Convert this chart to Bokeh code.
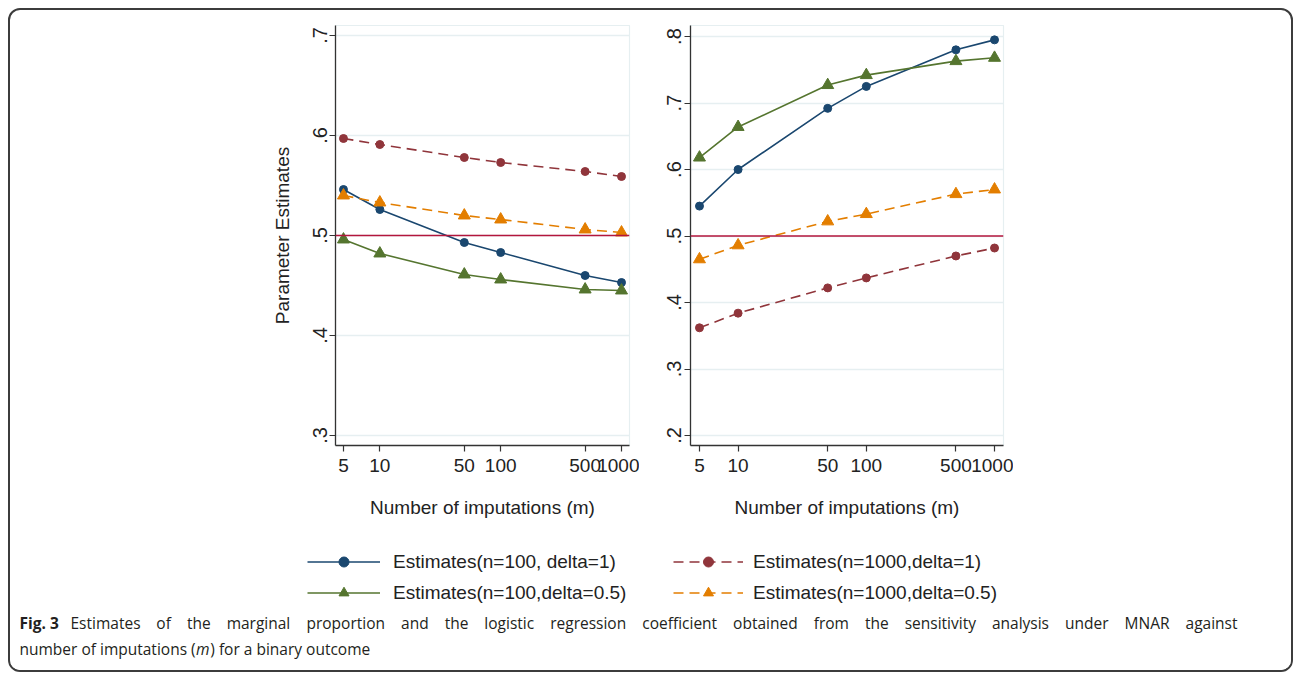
from bokeh.plotting import figure
from bokeh.layouts import column, row
from bokeh.models import (Range1d, FixedTicker, Span, Legend, LegendItem, Label, Spacer)
from bokeh.embed import file_html
from bokeh.resources import INLINE

# ---------------- data ----------------
m_imputations = [5, 10, 50, 100, 500, 1000]
x_tick_labels = ["5", "10", "50", "100", "500", "1000"]

# Left panel: marginal proportion
left_n100_d1 = [0.546, 0.526, 0.493, 0.483, 0.460, 0.453]
left_n1000_d1 = [0.597, 0.591, 0.578, 0.573, 0.564, 0.559]
left_n100_d05 = [0.496, 0.482, 0.461, 0.456, 0.446, 0.445]
left_n1000_d05 = [0.540, 0.533, 0.520, 0.516, 0.506, 0.503]

# Right panel: logistic regression coefficient
right_n100_d1 = [0.545, 0.600, 0.692, 0.725, 0.780, 0.795]
right_n1000_d1 = [0.362, 0.384, 0.422, 0.437, 0.470, 0.482]
right_n100_d05 = [0.618, 0.664, 0.727, 0.742, 0.763, 0.768]
right_n1000_d05 = [0.465, 0.486, 0.522, 0.533, 0.563, 0.570]

left_y_ticks = [0.3, 0.4, 0.5, 0.6, 0.7]
left_y_labels = [".3", ".4", ".5", ".6", ".7"]
right_y_ticks = [0.2, 0.3, 0.4, 0.5, 0.6, 0.7, 0.8]
right_y_labels = [".2", ".3", ".4", ".5", ".6", ".7", ".8"]
reference_value = 0.5

series_names = ["Estimates(n=100, delta=1)", "Estimates(n=1000,delta=1)",
                "Estimates(n=100,delta=0.5)", "Estimates(n=1000,delta=0.5)"]

caption_bold = "Fig. 3"
caption_line1 = ("Estimates of the marginal proportion and the logistic regression coefficient "
                 "obtained from the sensitivity analysis under MNAR against")
caption_line2 = ["number of imputations (", "m", ") for a binary outcome"]

# ---------------- styles ----------------
C_NAVY = "#1a476f"
C_MAROON = "#90353b"
C_GREEN = "#55752f"
C_ORANGE = "#e37e00"
C_REF = "#b3163c"
C_GRID = "#e6eff1"
C_AXIS = "#333333"
C_TEXT = "#222222"
FONT = "Liberation Sans"

styles = [
    dict(color=C_NAVY, dash="solid", marker="circle", size=8),
    dict(color=C_MAROON, dash="10 6", marker="circle", size=8),
    dict(color=C_GREEN, dash="solid", marker="triangle", size=12),
    dict(color=C_ORANGE, dash="10 6", marker="triangle", size=12),
]


def make_panel(width, border_left, y_range, y_ticks, y_labels, x_range, series, y_title):
    p = figure(width=width, height=520, x_axis_type="log",
               x_range=x_range, y_range=y_range,
               min_border_left=border_left, min_border_right=10,
               min_border_top=15, min_border_bottom=85,
               toolbar_location=None, output_backend="svg")
    p.background_fill_color = "white"
    p.border_fill_color = "white"
    p.outline_line_color = C_GRID
    p.outline_line_width = 1.2

    p.xgrid.visible = False
    p.ygrid.ticker = FixedTicker(ticks=y_ticks)
    p.ygrid.grid_line_color = C_GRID
    p.ygrid.grid_line_width = 1.5

    p.xaxis.ticker = FixedTicker(ticks=m_imputations)
    p.xaxis.major_label_overrides = {t: l for t, l in zip(m_imputations, x_tick_labels)}
    p.yaxis.ticker = FixedTicker(ticks=y_ticks)
    p.yaxis.major_label_overrides = {t: l for t, l in zip(y_ticks, y_labels)}
    p.yaxis.major_label_orientation = "vertical"
    for ax in (p.xaxis, p.yaxis):
        ax.axis_line_color = C_AXIS
        ax.axis_line_width = 1.3
        ax.major_tick_line_color = C_AXIS
        ax.major_tick_line_width = 1.2
        ax.major_tick_out = 6
        ax.major_tick_in = 0
        ax.minor_tick_line_color = None
        ax.major_label_text_font = FONT
        ax.major_label_text_color = C_TEXT
        ax.axis_label_text_font = FONT
        ax.axis_label_text_font_size = "19px"
        ax.axis_label_text_font_style = "normal"
        ax.axis_label_text_color = C_TEXT
    p.xaxis.major_label_text_font_size = "19px"
    p.yaxis.major_label_text_font_size = "20px"
    p.xaxis.major_label_standoff = 7
    p.xaxis.axis_label = "Number of imputations (m)"
    p.xaxis.axis_label_standoff = 22
    p.yaxis.major_label_standoff = 3
    if y_title:
        p.yaxis.axis_label = y_title
        p.yaxis.axis_label_standoff = 17

    p.add_layout(Span(location=reference_value, dimension="width",
                      line_color=C_REF, line_width=1.6))

    for ys, st in zip(series, styles):
        p.line(m_imputations, ys, line_color=st["color"], line_width=1.6,
               line_dash=st["dash"])
        p.scatter(m_imputations, ys, marker=st["marker"], size=st["size"],
                  fill_color=st["color"], line_color=st["color"])
    return p


left = make_panel(389, 85, Range1d(0.29, 0.71), left_y_ticks, left_y_labels,
                  Range1d(4.295, 1164.5),
                  [left_n100_d1, left_n1000_d1, left_n100_d05, left_n1000_d05],
                  "Parameter Estimates")
right = make_panel(374, 51, Range1d(0.185, 0.8166), right_y_ticks, right_y_labels,
                   Range1d(4.255, 1175.0),
                   [right_n100_d1, right_n1000_d1, right_n100_d05, right_n1000_d05],
                   None)

# ---------------- legend strip ----------------
# legend proxies: same data, but this strip's ranges keep them out of view
leg = figure(width=1281, height=75, x_range=Range1d(-2, -1), y_range=Range1d(-2, -1),
             min_border=0, toolbar_location=None, output_backend="svg",
             x_axis_location=None, y_axis_location=None)
leg.outline_line_color = None
leg.grid.visible = False
leg_items = []
for name, st, ys in zip(series_names, styles,
                        [left_n100_d1, left_n1000_d1, left_n100_d05, left_n1000_d05]):
    lr = leg.line(m_imputations, ys, line_color=st["color"], line_width=1.6,
                  line_dash=st["dash"])
    sr = leg.scatter(m_imputations, ys, marker=st["marker"], size=st["size"],
                     fill_color=st["color"], line_color=st["color"])
    leg_items.append(LegendItem(label=name, renderers=[lr, sr]))


def make_legend(items, loc, glyph_w, standoff):
    return Legend(items=items, location=loc, orientation="vertical",
                  glyph_width=glyph_w, glyph_height=25, label_height=25,
                  label_standoff=standoff, spacing=6, padding=0, margin=0,
                  label_text_font=FONT, label_text_font_size="19px",
                  label_text_color=C_TEXT, border_line_color=None,
                  background_fill_alpha=0)


leg.add_layout(make_legend([leg_items[0], leg_items[2]], (297, 0), 73, 13))
leg.add_layout(make_legend([leg_items[1], leg_items[3]], (663, 0), 70, 10))

# ---------------- caption strip ----------------
cap = figure(width=1281, height=65, x_range=Range1d(0, 1), y_range=Range1d(0, 1),
             min_border=0, toolbar_location=None, output_backend="svg",
             x_axis_location=None, y_axis_location=None)
cap.outline_line_color = None
cap.grid.visible = False
CAP_FONT = "Open Sans"
CAP_SIZE = 15.5
CAP_COLOR = "#231f20"

# approximate Open Sans advance widths (em) used to justify line 1
_w = {"a": .556, "b": .613, "c": .476, "d": .613, "e": .561, "f": .339, "g": .548,
      "h": .614, "i": .253, "k": .525, "l": .253, "m": .930, "n": .614, "o": .604,
      "p": .613, "r": .408, "s": .477, "t": .353, "u": .614, "v": .501, "y": .502,
      "E": .549, "M": .899, "N": .770, "A": .633, "R": .595, "(": .297, " ": .26}


def text_w(wd):
    return sum(_w.get(ch, .55) for ch in wd) * CAP_SIZE


def cap_label(txt, x, y, style="normal", align="left"):
    cap.add_layout(Label(x=x, y=y, x_units="screen", y_units="screen", text=txt,
                         text_font=CAP_FONT, text_font_size=f"{CAP_SIZE}px",
                         text_font_style=style, text_color=CAP_COLOR,
                         text_baseline="middle", text_align=align))


Y1, Y2 = 48, 22
cap_label(caption_bold, 9, Y1, "bold")
words = caption_line1.split(" ")
x0, x1 = 60, 1227
widths = [text_w(wd) for wd in words]
gap = (x1 - x0 - sum(widths)) / (len(words) - 1)
xpos = x0
for i, (wd, ww) in enumerate(zip(words, widths)):
    if i == len(words) - 1:
        cap_label(wd, x1, Y1, align="right")
    else:
        cap_label(wd, xpos, Y1)
    xpos += ww + gap

x_m = 9 + text_w(caption_line2[0])
cap_label(caption_line2[0], 9, Y2)
cap_label(caption_line2[1], x_m, Y2, "italic")
cap_label(caption_line2[2], x_m + 0.93 * CAP_SIZE, Y2)

top = row(Spacer(width=240, height=520), left, right)
root = column(top, leg, cap, width=1285, height=664,
              styles={"position": "absolute", "left": "8px", "top": "8px",
                      "border": "2px solid #3c3c3c", "border-radius": "12px",
                      "background-color": "white", "box-sizing": "border-box",
                      "overflow": "hidden"})

open("out.html", "w").write(file_html(root, INLINE))
